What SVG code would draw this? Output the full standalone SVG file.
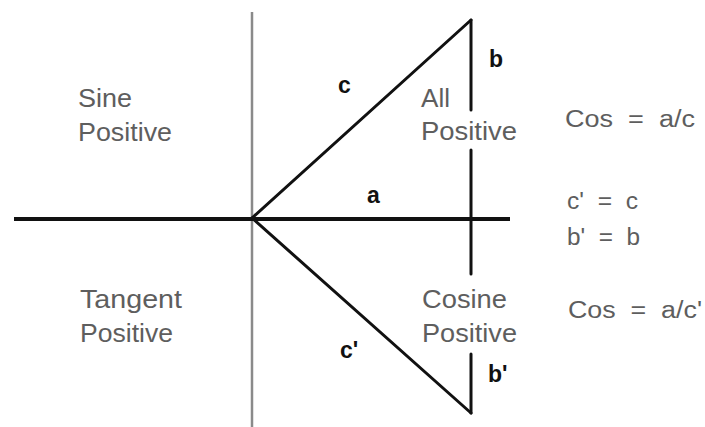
<svg xmlns="http://www.w3.org/2000/svg" width="705" height="427" viewBox="0 0 705 427">
<style>
.q{font-family:"Liberation Sans",Arial,sans-serif;font-size:26px;fill:#5e5e5e}
.f{font-family:"Liberation Sans",Arial,sans-serif;font-size:23px;fill:#5e5e5e;white-space:pre}
.b{font-family:"Liberation Sans",Arial,sans-serif;font-size:23px;font-weight:bold;fill:#111}
.ax{stroke:#8a8a8a;stroke-width:2.5;fill:none}
.k{stroke:#111;stroke-width:3;fill:none;stroke-linecap:round}
</style>
<rect width="705" height="427" fill="#fff"/>
<g id="connectors">
<line class="ax" x1="252" y1="12" x2="252" y2="427"/>
<line x1="14" y1="219" x2="510" y2="219" stroke="#111" stroke-width="4"/>
<line class="k" x1="252" y1="218" x2="471" y2="20"/>
<line class="k" x1="252" y1="218" x2="471" y2="413"/>
<line class="k" x1="471" y1="20" x2="471" y2="110"/>
<line class="k" x1="471" y1="150" x2="471" y2="274"/>
<line class="k" x1="471" y1="354" x2="471" y2="413"/>
</g>
<g id="sine">
<text class="q" x="78" y="107" textLength="54" lengthAdjust="spacingAndGlyphs">Sine</text>
<text class="q" x="78" y="141" textLength="94" lengthAdjust="spacingAndGlyphs">Positive</text>
</g>
<g id="all">
<text class="q" x="421" y="107" textLength="29" lengthAdjust="spacingAndGlyphs">All</text>
<text class="q" x="421" y="140" textLength="96" lengthAdjust="spacingAndGlyphs">Positive</text>
</g>
<g id="tangent">
<text class="q" x="80" y="308" textLength="102" lengthAdjust="spacingAndGlyphs">Tangent</text>
<text class="q" x="80" y="342" textLength="93" lengthAdjust="spacingAndGlyphs">Positive</text>
</g>
<g id="cosine">
<text class="q" x="422" y="308" textLength="85" lengthAdjust="spacingAndGlyphs">Cosine</text>
<text class="q" x="422" y="342" textLength="95" lengthAdjust="spacingAndGlyphs">Positive</text>
</g>
<g id="side-labels">
<text class="b" x="338" y="93">c</text>
<text class="b" x="489" y="67">b</text>
<text class="b" x="367" y="203">a</text>
<text class="b" x="340" y="358">c'</text>
<text class="b" x="488" y="382">b'</text>
</g>
<g id="formulas">
<text class="f" x="565" y="127" textLength="130" lengthAdjust="spacingAndGlyphs">Cos  =  a/c</text>
<text class="f" x="567" y="209" textLength="71" lengthAdjust="spacingAndGlyphs">c'  =  c</text>
<text class="f" x="567" y="245" textLength="73" lengthAdjust="spacingAndGlyphs">b'  =  b</text>
<text class="f" x="568" y="318" textLength="134" lengthAdjust="spacingAndGlyphs">Cos  =  a/c'</text>
</g>
</svg>
